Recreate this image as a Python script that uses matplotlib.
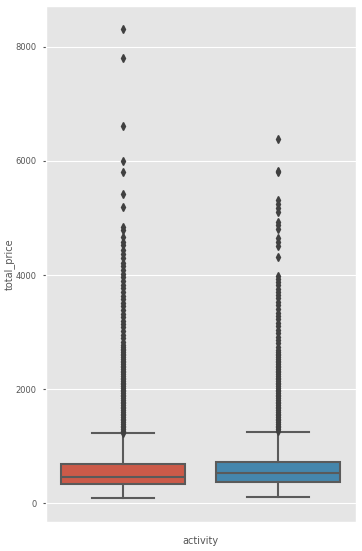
import matplotlib
matplotlib.use("Agg")
import matplotlib.pyplot as plt
import seaborn as sns

plt.style.use("ggplot")

# box statistics
groups = ["0", "1"]
q1 = [328, 375]
med = [463, 521]
q3 = [684, 726]
whislo = [82, 112]
whishi = [1223, 1252]

fliers_0 = [8307, 7814, 6609, 6005, 5814, 5416, 5193, 4842, 4784, 4667,
            4580, 4520, 4433, 4375, 4300, 4210, 4150, 4090, 4020, 3960,
            3890, 3830, 3770, 3700, 3640, 3580, 3510, 3450, 3390, 3320,
            3260, 3200, 3140, 3080, 3010, 2950, 2890, 2830, 2770, 2740,
            2710, 2680, 2650, 2620, 2590, 2560, 2530, 2500, 2470, 2440,
            2410, 2380, 2350, 2320, 2290, 2260, 2230, 2200, 2170, 2140,
            2110, 2080, 2050, 2020, 1990, 1960, 1930, 1900, 1870, 1840,
            1810, 1780, 1750, 1720, 1690, 1660, 1630, 1600, 1570, 1540,
            1510, 1480, 1450, 1420, 1390, 1360, 1330, 1300, 1270, 1235]
fliers_1 = [6386, 5819, 5800, 5322, 5252, 5182, 5105, 4930, 4872, 4814,
            4656, 4580, 4503, 4316, 3977, 3930, 3880, 3820, 3760, 3700,
            3650, 3590, 3530, 3470, 3400, 3340, 3280, 3220, 3160, 3100,
            3040, 2980, 2920, 2860, 2800, 2740, 2680, 2650, 2620, 2590,
            2560, 2530, 2500, 2470, 2440, 2410, 2380, 2350, 2320, 2290,
            2260, 2230, 2200, 2170, 2140, 2110, 2080, 2050, 2020, 1990,
            1960, 1930, 1900, 1870, 1840, 1810, 1780, 1750, 1720, 1690,
            1660, 1630, 1600, 1570, 1540, 1510, 1480, 1450, 1420, 1390,
            1360, 1330, 1300, 1265]
fliers = [fliers_0, fliers_1]

colors = [sns.desaturate("#E24A33", 0.75), sns.desaturate("#348ABD", 0.75)]
line_gray = "#5a5a5a"

stats = []
for i in range(len(groups)):
    stats.append(dict(label=groups[i], q1=q1[i], med=med[i], q3=q3[i],
                      whislo=whislo[i], whishi=whishi[i], fliers=fliers[i]))

fig = plt.figure(figsize=(3.62, 5.51), dpi=100)
ax = fig.add_axes([0.127, 0.0526, 0.856, 0.936])

bp = ax.bxp(stats, positions=range(len(groups)), widths=0.8, capwidths=0.4,
            patch_artist=True,
            boxprops=dict(edgecolor=line_gray, linewidth=1.5),
            whiskerprops=dict(color=line_gray, linewidth=1.5),
            capprops=dict(color=line_gray, linewidth=1.5),
            medianprops=dict(color=line_gray, linewidth=1.5),
            flierprops=dict(marker="d", markersize=3.6, markerfacecolor="#404040",
                            markeredgecolor="#404040", linestyle="none"))
for patch, c in zip(bp["boxes"], colors):
    patch.set_facecolor(c)

ax.set_xlim(-0.5, 1.5)
ax.set_ylim(-333, 8714)
ax.set_xticks([])
ax.set_yticks([0, 2000, 4000, 6000, 8000])
ax.tick_params(axis="y", labelsize=6, colors="#555555", length=2, pad=5)
ax.grid(axis="x", visible=False)
ax.set_ylabel("total_price", fontsize=7, color="#555555")
ax.yaxis.set_label_coords(-0.10, 0.5)
ax.set_xlabel("activity", fontsize=7, color="#555555", labelpad=10)

fig.savefig("out.png", dpi=100)
